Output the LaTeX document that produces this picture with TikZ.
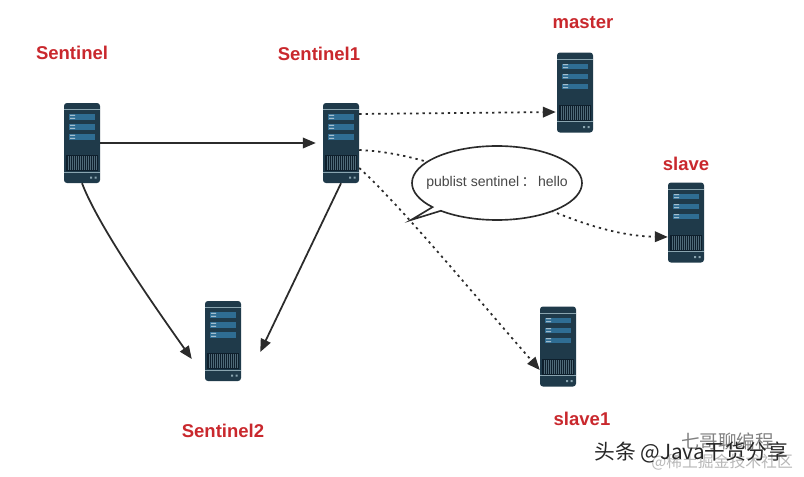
\documentclass[tikz,border=0pt]{standalone}
\usepackage{fontspec}
\setmainfont{Liberation Sans}
\newfontfamily\cjk{Noto Sans CJK SC}
\usepackage{tikz}
\usetikzlibrary{arrows.meta,shapes.callouts,calc}
\definecolor{cbody}{HTML}{1F3A4A}
\definecolor{cpanel}{HTML}{2F6D93}
\definecolor{cstripe}{HTML}{0E1F2C}
\definecolor{cedge}{HTML}{8AA5B0}
\definecolor{clabel}{HTML}{C9282D}
\definecolor{cline}{HTML}{2B2B2B}
\tikzset{
  server/.style={rectangle, rounded corners=2.5pt, fill=cbody, minimum width=0.03cm*36, minimum height=0.03cm*80, inner sep=0pt},
  lbl/.style={font=\fontsize{15.8}{18}\selectfont\bfseries, text=clabel},
  pre/.style={-{Triangle[length=11pt,width=9pt]}, cline, line width=1.5pt},
  dots/.style={pre, dash pattern=on 2pt off 3.4pt},
  bubble/.style={ellipse callout, draw=cline, line width=1.4pt, fill=white, minimum width=0.03cm*170, minimum height=0.03cm*74, inner sep=0pt, callout pointer arc=8},
  msgtext/.style={font=\fontsize{12}{14}\selectfont, text=black!72},
  mark1/.style={font=\cjk\fontsize{17.7}{20}\selectfont, text=black!85},
  mark2/.style={font=\cjk\fontsize{15.8}{18}\selectfont, text=black!50},
  mark3/.style={font=\cjk\fontsize{13.5}{15}\selectfont, text=black!28},
}
\begin{document}
\begin{tikzpicture}[x=0.03cm,y=-0.03cm]
\useasboundingbox (0,0) rectangle (804,477);
\node[server] (s0) at (82,143) {};
\node[server] (s1) at (341,143) {};
\node[server] (s2) at (223,341) {};
\node[server] (mst) at (575,92.5) {};
\node[server] (slv) at (686,222.5) {};
\node[server] (slv1) at (558,346.5) {};
% server fronts
\foreach \n in {s0,s1,s2,mst,slv,slv1} {
  \begin{scope}[shift={(\n.center)}, shift={(-18,-40)}]
    \fill[cedge] (0,6) rectangle (36,6.8);
    \fill[cedge] (0,68.5) rectangle (36,69.5);
    \foreach \y in {11,21,31} {
      \fill[cpanel] (5,\y) rectangle (31,\y+5.5);
      \fill[white!85!cpanel] (6,\y+.8) rectangle (11,\y+1.6) (6,\y+3.8) rectangle (11,\y+4.6);
    }
    \fill[cstripe] (2,52) rectangle (34,68);
    \foreach \x in {4,6,...,32} \fill[cedge!45!cbody] (\x,53) rectangle (\x+.6,67);
    \fill[cedge] (26,73.5) rectangle (28,75.5) (30.5,73.5) rectangle (32.5,75.5);
  \end{scope}
}
\node[lbl] (ls0) at (72,53) {Sentinel};
\node[lbl] (ls1) at (319,54) {Sentinel1};
\node[lbl] (ls2) at (223,431) {Sentinel2};
\node[lbl] (lmst) at (583,23) {master};
\node[lbl] (lslv) at (686,164) {slave};
\node[lbl] (lslv1) at (582,419) {slave1};
\draw[pre] (s0.east) -- ($(s1.west)+(-7,0)$);
\draw[pre] (s0.south) .. controls (98,225) and (150,300) .. ($(s2.west)+(-13,18)$);
\draw[pre] (s1.south) -- ($(s2.east)+(19,11)$);
\draw[dots] ($(s1.east)+(0,-29)$) -- ($(mst.west)+(-1,19.5)$);
\draw[dots] ($(s1.east)+(0,7)$) .. controls (470,155) and (560,235) .. (slv.west |- 0,237);
\draw[dots] ($(s1.east)+(0,25)$) .. controls (400,205) and (470,290) .. (slv1.west |- 0,370);
\node[bubble, callout absolute pointer={(411,220)}] (msg) at (497,183) {};
\node[msgtext] (msgt) at (msg.center) {publist sentinel\,{\cjk ：}\,hello};
\node[mark3, anchor=east] (wm3) at (797,462) {@稀土掘金技术社区};
\node[mark2, anchor=east] (wm2) at (778,441) {七哥聊编程};
\node[mark1, anchor=east] (wm1) at (792,453) {头条 @Java干货分享};
\end{tikzpicture}
\end{document}
